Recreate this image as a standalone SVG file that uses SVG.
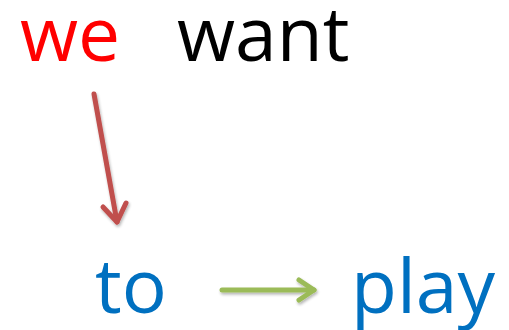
<svg xmlns="http://www.w3.org/2000/svg" width="509" height="330" viewBox="0 0 509 330">
<style>
text{font-family:"Open Sans","Noto Sans",sans-serif;font-size:75px}
.arr{fill:none;stroke-linecap:round;stroke-linejoin:round}
</style>
<defs>
<filter id="sh" x="-20%" y="-20%" width="140%" height="140%"><feGaussianBlur in="SourceAlpha" stdDeviation="1.5"/><feOffset dx="1" dy="2"/><feComponentTransfer><feFuncA type="linear" slope="0.3"/></feComponentTransfer><feMerge><feMergeNode/><feMergeNode in="SourceGraphic"/></feMerge></filter>
</defs>
<g id="we"><text x="20" y="61" fill="#FF0000">we</text></g>
<g id="want"><text x="177" y="61" fill="#000000">want</text></g>
<g id="to"><text x="95" y="313" fill="#0070C0">to</text></g>
<g id="play"><text x="351" y="313" fill="#0070C0">play</text></g>
<g id="connectors" filter="url(#sh)">
<g class="arr" stroke="#C0504D" stroke-width="5">
<path d="M94,94 L117,222"/>
<path d="M103,207 L117,222 L126,203"/>
</g>
<g class="arr" stroke="#9BBB59" stroke-width="5">
<path d="M222,290 L314,290"/>
<path d="M299,280 L314,290 L299,300"/>
</g>
</g>
</svg>
